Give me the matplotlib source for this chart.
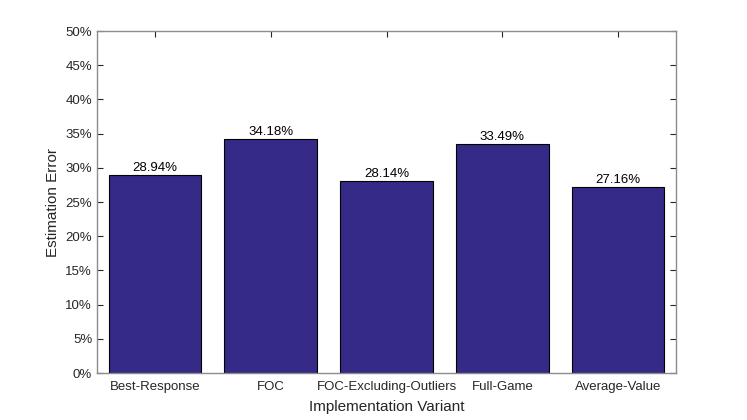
import numpy as np
from matplotlib import pyplot as plt
from matplotlib.ticker import FuncFormatter

variants = ['Best-Response', 'FOC', 'FOC-Excluding-Outliers', 'Full-Game', 'Average-Value']
errors = [28.94, 34.18, 28.14, 33.49, 27.16]

plt.rcParams['font.family'] = ['Liberation Sans', 'DejaVu Sans']

fig = plt.figure(figsize=(7.47, 4.2), dpi=100)
ax = fig.add_axes([0.1299, 0.1119, 0.7751, 0.8142])

x = np.arange(1, len(variants) + 1)
ax.bar(x, errors, width=0.8, color='#352a87', edgecolor='black', linewidth=0.8, zorder=2)

for xi, v in zip(x, errors):
    ax.text(xi, v + 0.15, '%.2f%%' % v, ha='center', va='bottom', fontsize=9.5, color='black')

ax.set_xlim(0.5, 5.5)
ax.set_ylim(0, 50)
ax.set_xticks(x)
ax.set_xticklabels(variants)
ax.set_yticks(np.arange(0, 51, 5))
ax.yaxis.set_major_formatter(FuncFormatter(lambda v, p: '%d%%' % v))

ax.tick_params(direction='in', top=True, right=True, length=4, width=0.8,
               labelsize=9.5, labelcolor='#262626', color='#262626')
ax.tick_params(axis='x', pad=6)
for s in ax.spines.values():
    s.set_color('#8c8c8c')
    s.set_linewidth(1.0)

ax.set_xlabel('Implementation Variant', fontsize=11, color='#262626', labelpad=5)
ax.set_ylabel('Estimation Error', fontsize=11, color='#262626', labelpad=4)

plt.savefig('out.png', dpi=100)
